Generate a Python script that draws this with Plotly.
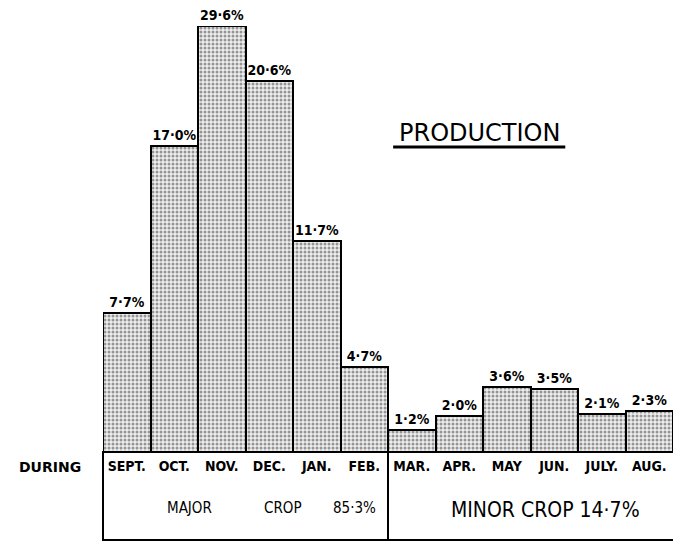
import plotly.graph_objects as go

months = ["SEPT.", "OCT.", "NOV.", "DEC.", "JAN.", "FEB.",
          "MAR.", "APR.", "MAY", "JUN.", "JULY.", "AUG."]
production_pct = [7.7, 17.0, 29.6, 20.6, 11.7, 4.7,
                  1.2, 2.0, 3.6, 3.5, 2.1, 2.3]
major_label = ["MAJOR", "CROP", "85·3%"]
minor_label = "MINOR CROP 14·7%"
title_text = "PRODUCTION"
row_label = "DURING"

Y_TOP = 23.67  # visible top of the drawing; taller bars are cut off
shown = [min(v, Y_TOP) for v in production_pct]
labels = [f"{v:.1f}".replace(".", "·") + "%" for v in production_pct]

FONT = "DejaVu Sans Condensed, DejaVu Sans, Liberation Sans Narrow, sans-serif"

fig = go.Figure()
fig.add_trace(go.Bar(
    x=list(range(len(months))),
    y=shown,
    text=labels,
    textposition="outside",
    textfont=dict(family=FONT, size=14, color="black", weight="bold"),
    constraintext="none",
    cliponaxis=False,
    width=1.0,
    marker=dict(
        color="#d8d8d8",
        line=dict(color="black", width=2),
        pattern=dict(shape=".", fgcolor="#3a3a3a", bgcolor="#eeeeee",
                     size=4, solidity=0.45),
    ),
    hoverinfo="skip",
))

fig.update_layout(
    width=673, height=544,
    margin=dict(l=103, r=0, t=26, b=92),
    paper_bgcolor="white", plot_bgcolor="white",
    showlegend=False,
    bargap=0,
    xaxis=dict(range=[-0.5, 11.5], tickvals=list(range(len(months))),
               ticktext=months, showgrid=False, zeroline=False,
               showline=False, ticks="", ticklabelstandoff=4,
               tickfont=dict(family=FONT, size=14, color="black",
                             weight="bold")),
    yaxis=dict(range=[0, Y_TOP], visible=False, showgrid=False,
               zeroline=False),
    font=dict(family=FONT, color="black"),
)

bottom = -88 / 426
# table box under the bars
fig.add_shape(type="rect", xref="paper", yref="paper", x0=0, x1=1.01,
              y0=bottom, y1=0, line=dict(color="black", width=2))
fig.add_shape(type="line", xref="x", yref="paper", x0=5.5, x1=5.5,
              y0=bottom, y1=0, line=dict(color="black", width=2))

# title with underline
fig.add_annotation(text=title_text, xref="paper", yref="paper",
                   x=0.661, y=0.749, showarrow=False,
                   xanchor="center", yanchor="middle",
                   font=dict(family="DejaVu Sans", size=24, color="black"))
fig.add_shape(type="line", xref="paper", yref="paper", x0=0.509, x1=0.811,
              y0=0.716, y1=0.716, line=dict(color="black", width=3))

fig.add_annotation(text=row_label, xref="paper", yref="paper",
                   x=-0.093, y=-0.035, showarrow=False,
                   xanchor="center", yanchor="middle",
                   font=dict(family="DejaVu Sans", size=14, color="black",
                             weight="bold"))

for txt, xp in zip(major_label, [0.1526, 0.316, 0.442]):
    fig.add_annotation(text=txt, xref="paper", yref="paper", x=xp, y=-0.131,
                       showarrow=False, xanchor="center", yanchor="middle",
                       font=dict(family=FONT, size=15, color="black"))

fig.add_annotation(text=minor_label, xref="paper", yref="paper",
                   x=0.777, y=-0.136, showarrow=False,
                   xanchor="center", yanchor="middle",
                   font=dict(family=FONT, size=21, color="black"))

fig.write_html("out.html", config={"displayModeBar": False},
               post_script="document.body.style.margin='0';document.body.style.overflow='hidden';")
